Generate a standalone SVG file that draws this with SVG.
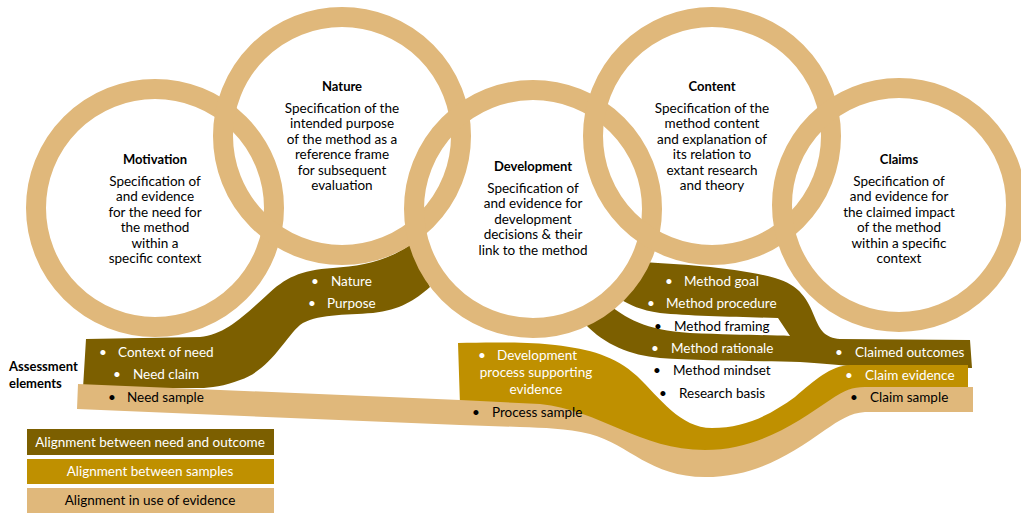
<svg xmlns="http://www.w3.org/2000/svg" width="1021" height="513" viewBox="0 0 1021 513">
<style>
text{font-family:Lato,"Liberation Sans",sans-serif;font-size:13.5px;fill:#000}
.c{text-anchor:middle}
.b{font-weight:bold;font-size:13px}
.w{fill:#fff}
.ring{fill:none;stroke:#E0B87B;stroke-width:20}
.tan{fill:#E0B87B}
.gold{fill:#BF9000}
.dark{fill:#7C5F00}
</style>
<rect width="1021" height="513" fill="#fff"/>
<g id="connectors">
<path id="ribbon-need" class="dark" d="M86,339 L200,337 C225,335 245,315 267,295 C285,278 300,270 333,268 C360,266 385,262 410,245 L430,287 C415,300 400,310 373,313 C345,315 315,314 300,325 C285,338 270,370 240,380 C225,386 210,388 200,388 L83,388 Z"/>
<path id="ribbon-method" class="dark" d="M640,262 C680,264 740,268 775,278 C800,285 808,300 815,318 C820,330 825,338 840,339 L970,340 L972,368 L850,366 C835,365 820,363 800,362 C760,361 700,361 660,358 C630,355 605,345 585,324 L607,303 C625,318 645,330 690,333 C740,335 770,335 790,336 L778,318 C740,317 690,316 660,313 C640,310 630,305 620,299 Z"/>
<path id="ribbon-gold" class="gold" d="M458,343 C490,342 530,342 555,345 C590,349 615,356 637,376 C660,398 680,428 712,428 C745,428 770,415 795,397 C815,380 830,366 850,365 L968,365 L968,392 L862,392 C850,392 845,395 830,405 C800,425 760,455 705,455 C640,455 600,415 540,409 L460,405 Z"/>
<path id="ribbon-tan" class="tan" d="M78,384 L460,400 L540,404 C600,410 640,450 705,450 C760,450 800,420 830,400 C845,390 852,387 865,387 L973,387 L973,412 L865,412 C850,413 840,420 825,430 C790,455 755,477 705,477 C650,477 630,445 590,434 C565,428 545,428 520,427 L460,425 L77,409 Z"/>
</g>
<g id="rings">
<circle id="ring-motivation" class="ring" cx="155" cy="208" r="119"/>
<circle id="ring-nature" class="ring" cx="342" cy="136" r="119"/>
<circle id="ring-development" class="ring" cx="533" cy="209" r="119"/>
<circle id="ring-content" class="ring" cx="712" cy="136" r="119"/>
<circle id="ring-claims" class="ring" cx="899" cy="205" r="117"/>
</g>
<g id="motivation">
<text class="c b" x="155" y="164">Motivation</text>
<text class="c" x="155" y="186">Specification of</text>
<text class="c" x="155" y="201">and evidence</text>
<text class="c" x="155" y="217">for the need for</text>
<text class="c" x="155" y="232">the method</text>
<text class="c" x="155" y="248">within a</text>
<text class="c" x="155" y="263">specific context</text>
</g>
<g id="nature">
<text class="c b" x="342" y="91">Nature</text>
<text class="c" x="342" y="113">Specification of the</text>
<text class="c" x="342" y="128">intended purpose</text>
<text class="c" x="342" y="144">of the method as a</text>
<text class="c" x="342" y="159">reference frame</text>
<text class="c" x="342" y="175">for subsequent</text>
<text class="c" x="342" y="190">evaluation</text>
</g>
<g id="development">
<text class="c b" x="533" y="171">Development</text>
<text class="c" x="533" y="193">Specification of</text>
<text class="c" x="533" y="208">and evidence for</text>
<text class="c" x="533" y="224">development</text>
<text class="c" x="533" y="239">decisions &amp; their</text>
<text class="c" x="533" y="255">link to the method</text>
</g>
<g id="content">
<text class="c b" x="712" y="91">Content</text>
<text class="c" x="712" y="113">Specification of the</text>
<text class="c" x="712" y="128">method content</text>
<text class="c" x="712" y="144">and explanation of</text>
<text class="c" x="712" y="159">its relation to</text>
<text class="c" x="712" y="175">extant research</text>
<text class="c" x="712" y="190">and theory</text>
</g>
<g id="claims">
<text class="c b" x="899" y="164">Claims</text>
<text class="c" x="899" y="186">Specification of</text>
<text class="c" x="899" y="201">and evidence for</text>
<text class="c" x="899" y="217">the claimed impact</text>
<text class="c" x="899" y="232">of the method</text>
<text class="c" x="899" y="248">within a specific</text>
<text class="c" x="899" y="263">context</text>
</g>
<g id="assessment-label">
<text class="b" x="9" y="371">Assessment</text>
<text class="b" x="9" y="388">elements</text>
</g>
<g id="items-need">
<text class="w c" x="315" y="286">•</text><text class="w" x="331" y="286">Nature</text>
<text class="w c" x="312" y="308">•</text><text class="w" x="327" y="308">Purpose</text>
<text class="w c" x="103" y="357">•</text><text class="w" x="118" y="357">Context of need</text>
<text class="w c" x="117" y="379">•</text><text class="w" x="133" y="379">Need claim</text>
<text class="c" x="112" y="402">•</text><text x="127" y="402">Need sample</text>
</g>
<g id="items-development">
<text class="w c" x="482" y="360">•</text><text class="w" x="497" y="360">Development</text>
<text class="w c" x="536" y="377">process supporting</text>
<text class="w c" x="536" y="394">evidence</text>
<text class="c" x="476" y="417">•</text><text x="492" y="417">Process sample</text>
</g>
<g id="items-method">
<text class="w c" x="669" y="286">•</text><text class="w" x="684" y="286">Method goal</text>
<text class="w c" x="651" y="308">•</text><text class="w" x="666" y="308">Method procedure</text>
<text class="c" x="658" y="331">•</text><text x="674" y="331">Method framing</text>
<text class="w c" x="655" y="353">•</text><text class="w" x="671" y="353">Method rationale</text>
<text class="c" x="657" y="375">•</text><text x="673" y="375">Method mindset</text>
<text class="c" x="663" y="398">•</text><text x="679" y="398">Research basis</text>
</g>
<g id="items-claims">
<text class="w c" x="839" y="357">•</text><text class="w" x="855" y="357">Claimed outcomes</text>
<text class="w c" x="849" y="380">•</text><text class="w" x="865" y="380">Claim evidence</text>
<text class="c" x="854" y="402">•</text><text x="870" y="402">Claim sample</text>
</g>
<g id="legend">
<rect class="dark" x="27" y="429" width="247" height="26"/>
<text class="w c" x="150" y="447">Alignment between need and outcome</text>
<rect class="gold" x="27" y="459" width="247" height="25"/>
<text class="w c" x="150" y="476">Alignment between samples</text>
<rect class="tan" x="27" y="488" width="247" height="25"/>
<text class="c" x="150" y="505">Alignment in use of evidence</text>
</g>
</svg>
